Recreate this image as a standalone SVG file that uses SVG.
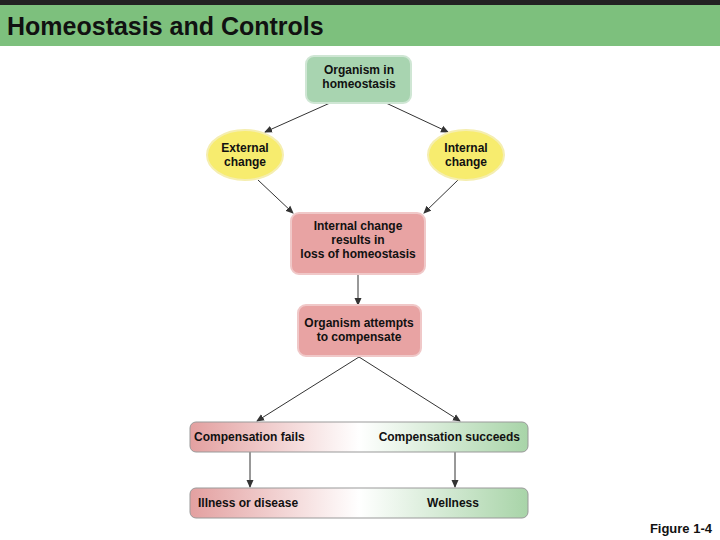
<svg xmlns="http://www.w3.org/2000/svg" width="720" height="540" viewBox="0 0 720 540">
<style>
text{font-family:"Liberation Sans",Arial,sans-serif;font-weight:bold;fill:#111}
.n{font-size:12px;text-anchor:middle}
.c line{stroke:#333;stroke-width:1}
</style>
<defs>
<marker id="ah" markerWidth="8" markerHeight="8" refX="7" refY="4" orient="auto" markerUnits="userSpaceOnUse"><path d="M0,0.5 L8,4 L0,7.5 z" fill="#333"/></marker>
<linearGradient id="g" x1="0" x2="1"><stop offset="0" stop-color="#e3a0a0"/><stop offset="0.5" stop-color="#ffffff"/><stop offset="1" stop-color="#a8d4a8"/></linearGradient>
</defs>
<rect width="720" height="540" fill="#fff"/>
<rect width="720" height="5" fill="#222"/>
<rect y="5" width="720" height="41" fill="#7dc07d"/>
<text x="7" y="35" font-size="25" font-weight="bold">Homeostasis and Controls</text>
<g class="c" marker-end="url(#ah)">
<line x1="330" y1="103" x2="265" y2="132"/>
<line x1="386" y1="103" x2="448" y2="132"/>
<line x1="258" y1="180" x2="293" y2="213"/>
<line x1="458" y1="180" x2="424" y2="213"/>
<line x1="358" y1="274" x2="358" y2="305"/>
<line x1="359" y1="357" x2="257" y2="421"/>
<line x1="359" y1="357" x2="460" y2="421"/>
<line x1="250" y1="452" x2="250" y2="487"/>
<line x1="455" y1="452" x2="455" y2="487"/>
</g>
<g id="homeo"><rect x="306" y="56" width="105" height="47" rx="8" fill="#a8d4b0" stroke="#cfe6d4" stroke-width="2"/><text class="n" x="359" y="74">Organism in</text><text class="n" x="359" y="88">homeostasis</text></g>
<g id="ext"><ellipse cx="245" cy="155" rx="38" ry="25" fill="#f7ec6e" stroke="#f5eeb0" stroke-width="2"/><text class="n" x="245" y="152">External</text><text class="n" x="245" y="166">change</text></g>
<g id="int"><ellipse cx="466" cy="155" rx="38" ry="25" fill="#f7ec6e" stroke="#f5eeb0" stroke-width="2"/><text class="n" x="466" y="152">Internal</text><text class="n" x="466" y="166">change</text></g>
<g id="loss"><rect x="291" y="213" width="134" height="61" rx="8" fill="#e8a3a3" stroke="#f0c8c8" stroke-width="2"/><text class="n" x="358" y="230">Internal change</text><text class="n" x="358" y="244">results in</text><text class="n" x="358" y="258">loss of homeostasis</text></g>
<g id="attempt"><rect x="298" y="305" width="123" height="51" rx="8" fill="#e8a3a3" stroke="#f0c8c8" stroke-width="2"/><text class="n" x="359" y="327">Organism attempts</text><text class="n" x="359" y="341">to compensate</text></g>
<g id="comp"><rect x="190" y="422" width="338" height="30" rx="6" fill="url(#g)" stroke="#999" stroke-width="1"/><text x="194" y="441" font-size="12">Compensation fails</text><text x="520" y="441" font-size="12" text-anchor="end">Compensation succeeds</text></g>
<g id="outcome"><rect x="190" y="488" width="338" height="30" rx="6" fill="url(#g)" stroke="#999" stroke-width="1"/><text x="198" y="507" font-size="12">Illness or disease</text><text x="453" y="507" font-size="12" text-anchor="middle">Wellness</text></g>
<text x="712" y="533" font-size="13" text-anchor="end">Figure 1-4</text>
</svg>
